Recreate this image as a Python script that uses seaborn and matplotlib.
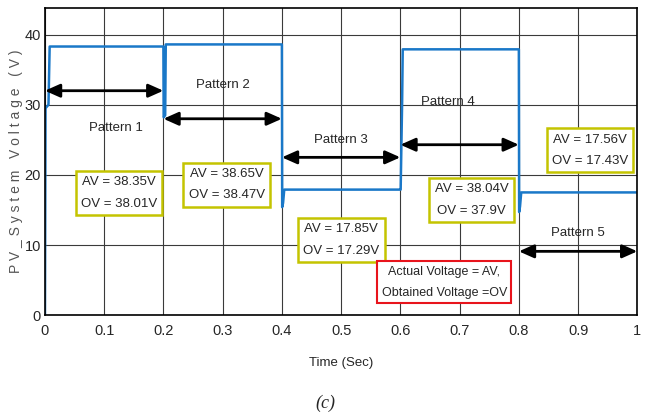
import matplotlib
matplotlib.use("Agg")
import matplotlib.pyplot as plt
import seaborn as sns
import pandas as pd

# ---- data ----
time_s = [0.0, 0.001, 0.006, 0.008, 0.2, 0.2005, 0.203, 0.204, 0.4, 0.4005, 0.402, 0.404,
          0.6, 0.6005, 0.603, 0.604, 0.8, 0.8005, 0.802, 0.804, 1.0]
voltage = [0.0, 29.5, 30.0, 38.3, 38.3, 28.2, 28.5, 38.6, 38.6, 15.4, 16.0, 17.9,
           17.9, 17.9, 30.5, 37.9, 37.9, 14.7, 15.5, 17.5, 17.5]

pattern_names = ["Pattern 1", "Pattern 2", "Pattern 3", "Pattern 4", "Pattern 5"]
pattern_start = [0.0, 0.2, 0.4, 0.6, 0.8]
pattern_end = [0.2, 0.4, 0.6, 0.8, 1.0]
arrow_y = [32.0, 28.0, 22.5, 24.3, 9.1]
label_x = [0.12, 0.30, 0.50, 0.68, 0.90]
label_y = [26.7, 32.8, 25.0, 30.4, 11.7]

box_texts = ["AV = 38.35V\nOV = 38.01V", "AV = 38.65V\nOV = 38.47V", "AV = 17.85V\nOV = 17.29V",
             "AV = 38.04V\nOV = 37.9V", "AV = 17.56V\nOV = 17.43V"]
box_x = [0.125, 0.307, 0.50, 0.72, 0.92]
box_y = [17.4, 18.6, 10.7, 16.4, 23.5]

legend_text = "Actual Voltage = AV,\nObtained Voltage =OV"
legend_x, legend_y = 0.674, 4.7

x_ticks = [0, 0.1, 0.2, 0.3, 0.4, 0.5, 0.6, 0.7, 0.8, 0.9, 1]
x_tick_labels = ["0", "0.1", "0.2", "0.3", "0.4", "0.5", "0.6", "0.7", "0.8", "0.9", "1"]
y_ticks = [0, 10, 20, 30, 40]

sns.set_style("white")
plt.rcParams['font.family'] = ['Liberation Sans Narrow', 'Liberation Sans', 'DejaVu Sans']

fig = plt.figure(figsize=(6.51, 4.18), dpi=100)
ax = fig.add_axes([0.069, 0.246, 0.91, 0.735])

df = pd.DataFrame({"t": time_s, "v": voltage})
sns.lineplot(data=df, x="t", y="v", ax=ax, color="#1a78c8", linewidth=1.8,
             estimator=None, sort=False)

ax.set_xlim(0, 1)
ax.set_ylim(0, 43.8)
ax.set_xticks(x_ticks)
ax.set_xticklabels(x_tick_labels)
ax.set_yticks(y_ticks)
ax.tick_params(axis="both", labelsize=10.5, direction="in", length=4, color="black")
ax.tick_params(axis="x", pad=6)
ax.tick_params(axis="y", pad=3)
ax.grid(True, color="#3a3a3a", linewidth=0.8)
for sp in ax.spines.values():
    sp.set_color("black")
    sp.set_linewidth(1.2)

ax.set_xlabel("Time (Sec)", fontsize=9.5, labelpad=14)
ax.set_ylabel("P V _ S y s t e m   V o l t a g e   ( V )", fontsize=10, color="#555555", labelpad=1)

for name, s, e, ay, lx, ly in zip(pattern_names, pattern_start, pattern_end, arrow_y, label_x, label_y):
    ax.annotate("", xy=(e, ay), xytext=(s, ay),
                arrowprops=dict(arrowstyle="<|-|>,head_length=0.9,head_width=0.4",
                                color="black", lw=2.0, shrinkA=0, shrinkB=0))
    ax.text(lx, ly, name, fontsize=9.5, ha="center", va="center")

for t, bx, by in zip(box_texts, box_x, box_y):
    ax.text(bx, by, t, fontsize=9.5, ha="center", va="center", linespacing=2.05,
            bbox=dict(boxstyle="square,pad=0.4", fc="white", ec="#c4c400", lw=1.8))

ax.text(legend_x, legend_y, legend_text, fontsize=9, ha="center", va="center", linespacing=2.0,
        bbox=dict(boxstyle="square,pad=0.35", fc="white", ec="#e8141c", lw=1.5))

fig.text(0.5, 0.035, "(c)", fontsize=13, style="italic", ha="center", va="center",
         family=["Liberation Serif", "DejaVu Serif"])

fig.savefig("out.png", dpi=100)
